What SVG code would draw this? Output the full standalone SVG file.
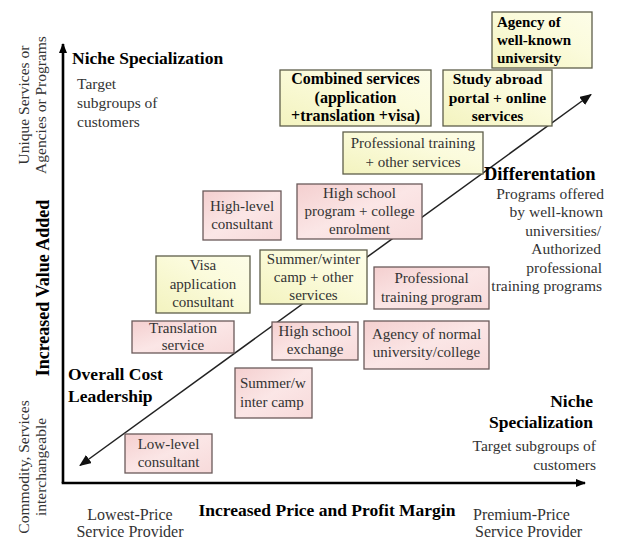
<svg xmlns="http://www.w3.org/2000/svg" width="618" height="539" viewBox="0 0 618 539">
<defs>
<linearGradient id="gPink" x1="0" y1="0" x2="1" y2="1">
<stop offset="0" stop-color="#f4cfcf"/>
<stop offset="0.5" stop-color="#fbe6e6"/>
<stop offset="1" stop-color="#f7dada"/>
</linearGradient>
<linearGradient id="gYel" x1="0" y1="1" x2="1" y2="0">
<stop offset="0" stop-color="#f3f3bf"/>
<stop offset="0.6" stop-color="#fbfbdc"/>
<stop offset="1" stop-color="#fdfde8"/>
</linearGradient>
<marker id="arr" viewBox="0 0 12 10" refX="11" refY="5" markerWidth="12" markerHeight="10" markerUnits="userSpaceOnUse" orient="auto-start-reverse">
<path d="M0,0 L12,5 L0,10 Z" fill="#111"/>
</marker>
<marker id="axarr" viewBox="0 0 10 8" refX="9" refY="4" markerWidth="10" markerHeight="8" markerUnits="userSpaceOnUse" orient="auto">
<path d="M0,0 L10,4 L0,8 Z" fill="#000"/>
</marker>
</defs>
<style>
text{font-family:"Liberation Serif","Times New Roman",serif;}
.t{font-size:15px;fill:#333;}
.s{font-size:15.5px;fill:#333;}
.p{font-size:16px;fill:#333;}
.b{font-weight:bold;fill:#000;}
.bx{font-size:15.5px;font-weight:bold;fill:#000;}
.m{text-anchor:middle;}
.e{text-anchor:end;}
.pink{fill:url(#gPink);stroke:#6a5a5a;stroke-width:1.3;}
.yel{fill:url(#gYel);stroke:#5e5e4a;stroke-width:1.3;}
</style>
<rect width="618" height="539" fill="#fff"/>

<g id="connectors">
<line x1="63" y1="483" x2="63" y2="44" stroke="#000" stroke-width="2.6" marker-end="url(#axarr)"/>
<line x1="61.7" y1="483" x2="585" y2="483" stroke="#000" stroke-width="2.6" marker-end="url(#axarr)"/>
<line x1="80" y1="465.5" x2="591" y2="94.5" stroke="#222" stroke-width="1.5" marker-start="url(#arr)" marker-end="url(#arr)"/>
</g>

<g id="axis-labels">
<text class="s" transform="translate(29,105) rotate(-90)" text-anchor="middle">Unique Services or</text>
<text class="s" transform="translate(46,105) rotate(-90)" text-anchor="middle">Agencies or Programs</text>
<text class="b" style="font-size:18px" transform="translate(49,288) rotate(-90)" text-anchor="middle">Increased Value Added</text>
<text class="s" transform="translate(29,467) rotate(-90)" text-anchor="middle">Commodity, Services</text>
<text class="s" transform="translate(46,467) rotate(-90)" text-anchor="middle">interchangeable</text>
<text class="b m" style="font-size:17.5px" x="327" y="516">Increased Price and Profit Margin</text>
<text class="p m" x="130" y="520">Lowest-Price</text>
<text class="p m" x="130" y="537">Service Provider</text>
<text class="p" x="473" y="520">Premium-Price</text>
<text class="p" x="475" y="537">Service Provider</text>
</g>

<g id="quadrant-labels">
<text class="b" style="font-size:17.5px" x="72" y="64">Niche Specialization</text>
<text class="s" x="77" y="89">Target</text>
<text class="s" x="77" y="108">subgroups of</text>
<text class="s" x="77" y="127">customers</text>
<text class="b" style="font-size:17.5px" x="68" y="380">Overall Cost</text>
<text class="b" style="font-size:17.5px" x="68" y="402">Leadership</text>
<text class="b e" style="font-size:17.5px" x="593" y="407">Niche</text>
<text class="b e" style="font-size:17.5px" x="593" y="428">Specialization</text>
<text class="s e" x="596" y="451">Target subgroups of</text>
<text class="s e" x="596" y="470">customers</text>
<text class="b" style="font-size:18.5px" x="484" y="180">Differentation</text>
<text class="s e" x="604" y="198.5">Programs offered</text>
<text class="s e" x="603" y="217">by well-known</text>
<text class="s e" x="601" y="235.5">universities/</text>
<text class="s e" x="601" y="254">Authorized</text>
<text class="s e" x="602" y="272.5">professional</text>
<text class="s e" x="602" y="291">training programs</text>
</g>

<g id="agency-well-known">
<rect class="yel" x="492" y="12" width="100" height="56"/>
<text class="b" style="font-size:15px" x="497" y="27">Agency of</text>
<text class="b" style="font-size:15px" x="497" y="45">well-known</text>
<text class="b" style="font-size:15px" x="497" y="63">university</text>
</g>

<g id="combined-services">
<rect class="yel" x="280" y="70" width="151" height="56"/>
<text class="bx m" style="font-size:16px" x="355.5" y="84">Combined services</text>
<text class="bx m" style="font-size:16px" x="355.5" y="102.5">(application</text>
<text class="bx m" style="font-size:16px" x="355.5" y="121">+translation +visa)</text>
</g>

<g id="study-abroad">
<rect class="yel" x="443" y="70" width="109" height="56"/>
<text class="bx m" x="497.5" y="84">Study abroad</text>
<text class="bx m" x="497.5" y="102.5">portal + online</text>
<text class="bx m" x="497.5" y="121">services</text>
</g>

<g id="professional-training-other">
<rect class="yel" x="343" y="132" width="140" height="42"/>
<text class="t m" x="413" y="148">Professional training</text>
<text class="t m" x="413" y="167">+ other services</text>
</g>

<g id="high-school-program">
<rect class="pink" x="297" y="184" width="125" height="55"/>
<text class="t m" x="359.5" y="197.5">High school</text>
<text class="t m" x="359.5" y="215.5">program + college</text>
<text class="t m" x="359.5" y="233.5">enrolment</text>
</g>

<g id="high-level-consultant">
<rect class="pink" x="203" y="191" width="78" height="49"/>
<text class="t m" x="242" y="210.5">High-level</text>
<text class="t m" x="242" y="229">consultant</text>
</g>

<g id="visa-application">
<rect class="yel" x="156" y="256" width="94" height="57"/>
<text class="t m" x="203" y="270">Visa</text>
<text class="t m" x="203" y="288.5">application</text>
<text class="t m" x="203" y="307">consultant</text>
</g>

<g id="summer-winter-camp-other">
<rect class="yel" x="260" y="250" width="107" height="54"/>
<text class="t m" x="313.5" y="264">Summer/winter</text>
<text class="t m" x="313.5" y="282">camp + other</text>
<text class="t m" x="313.5" y="300">services</text>
</g>

<g id="professional-training-program">
<rect class="pink" x="374" y="267" width="115" height="42"/>
<text class="t m" x="431.5" y="283">Professional</text>
<text class="t m" x="431.5" y="301.5">training program</text>
</g>

<g id="translation-service">
<rect class="pink" x="132" y="321" width="102" height="32"/>
<text class="t m" x="183" y="333">Translation</text>
<text class="t m" x="183" y="350">service</text>
</g>

<g id="high-school-exchange">
<rect class="pink" x="272" y="322" width="86" height="38"/>
<text class="t m" x="315" y="336">High school</text>
<text class="t m" x="315" y="354">exchange</text>
</g>

<g id="agency-normal-university">
<rect class="pink" x="364" y="321" width="125" height="48"/>
<text class="t m" x="426.5" y="338.5">Agency of normal</text>
<text class="t m" x="426.5" y="357">university/college</text>
</g>

<g id="summer-winter-camp">
<rect class="pink" x="235" y="368" width="77" height="50"/>
<text class="t" x="240" y="388">Summer/w</text>
<text class="t" x="240" y="407">inter camp</text>
</g>

<g id="low-level-consultant">
<rect class="pink" x="125" y="434" width="87" height="39"/>
<text class="t m" x="168.5" y="448.5">Low-level</text>
<text class="t m" x="168.5" y="467">consultant</text>
</g>
</svg>
